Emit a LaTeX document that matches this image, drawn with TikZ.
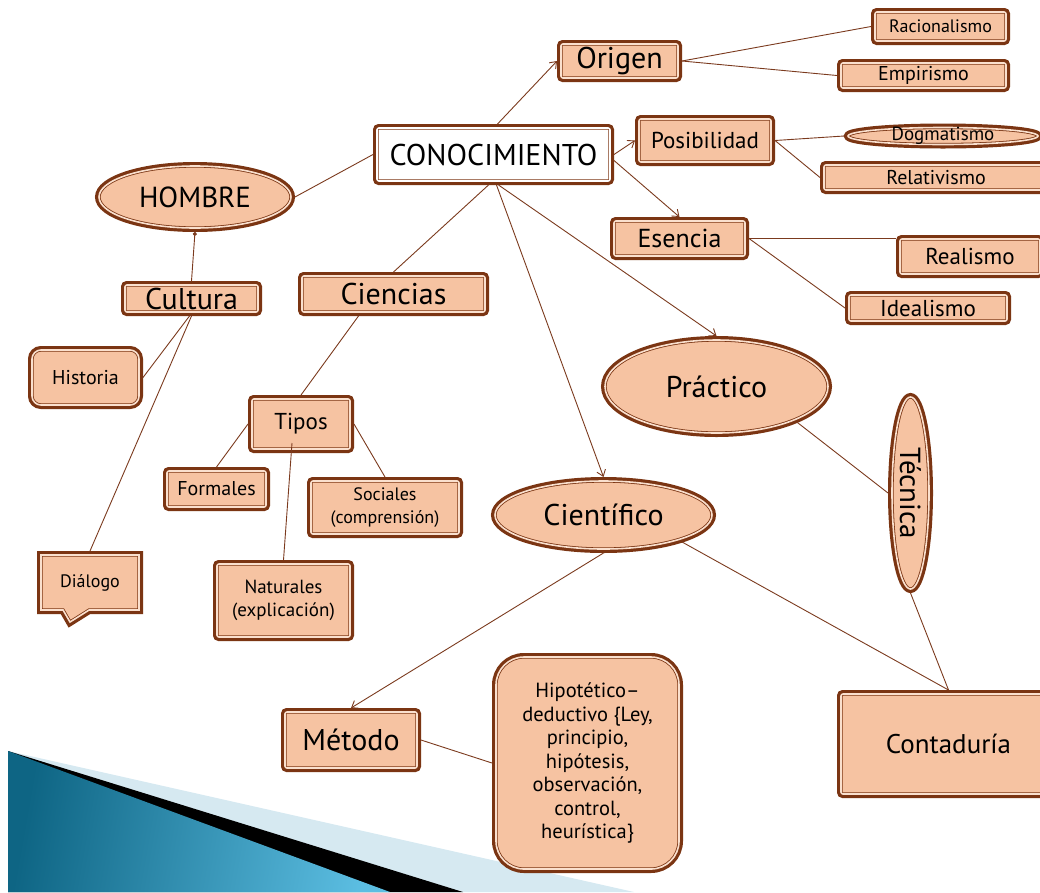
\documentclass[tikz,border=0pt]{standalone}
\usepackage{fontspec}
\setmainfont{PT Sans}
\usetikzlibrary{shapes.geometric,shapes.callouts,arrows.meta}
\definecolor{peach}{HTML}{F6C3A2}
\definecolor{bdark}{HTML}{7B3513}
\definecolor{bgap}{HTML}{FAE0CE}
\definecolor{lcol}{HTML}{7B3A1E}
\definecolor{lightband}{HTML}{D6E9F1}
\definecolor{bluedark}{HTML}{0E6584}
\definecolor{bluelight}{HTML}{5CBEE2}
\tikzset{
  bx/.style={rectangle, rounded corners=2pt, draw=bdark, line width=0.8pt, double=bgap,
    double distance=1.6pt, fill=peach, preaction={draw=bdark, line width=8pt},
    inner sep=0pt, outer sep=4pt, align=center, text=black},
  el/.style={bx, ellipse},
  con/.style={draw=lcol, line width=0.9pt},
  arr/.style={con, -{Straight Barb[length=6pt,width=9pt]}},
  f30/.style={font=\fontsize{30}{36}\selectfont},
  f29/.style={font=\fontsize{29}{35}\selectfont},
  f27/.style={font=\fontsize{27}{32}\selectfont},
  f26/.style={font=\fontsize{26}{31}\selectfont},
  f23/.style={font=\fontsize{23}{28}\selectfont},
  f20/.style={font=\fontsize{20}{24}\selectfont},
  f19/.style={font=\fontsize{19}{23.5}\selectfont},
  f18/.style={font=\fontsize{18}{23.5}\selectfont},
  fhip/.style={font=\fontsize{20.5}{23.5}\selectfont},
}
\begin{document}
\begin{tikzpicture}[x=1pt,y=-1pt]
\useasboundingbox (0,0) rectangle (1040,892);
% bottom-left decoration
\fill[lightband] (8,751) -- (634,892) -- (8,892) -- cycle;
\fill[black] (8,751) -- (463,892) -- (8,892) -- cycle;
\shade[left color=bluedark, right color=bluelight, shading angle=80] (8,751) -- (390,892) -- (8,892) -- cycle;

% nodes
\node[bx, f30, fill=white, double=white, minimum width=233, minimum height=53] (conoc) at (493.5,154.5) {CONOCIMIENTO};
\node[bx, f30, minimum width=117, minimum height=34] (origen) at (619.5,61) {Origen};
\node[bx, f18, minimum width=131, minimum height=29] (raci) at (940.5,26.5) {Racionalismo};
\node[bx, f20, minimum width=165, minimum height=25] (empi) at (923.5,75.5) {Empirismo};
\node[bx, f23, minimum width=132, minimum height=43] (posib) at (705,140.5) {Posibilidad};
\node[el, minimum width=190, minimum height=17, label={[f19, text=black]center:Dogmatismo}] (dogma) at (943,136) {};
\node[bx, f20, minimum width=224, minimum height=25] (relat) at (936,177.5) {Relativismo};
\node[bx, f26, minimum width=131, minimum height=35] (esencia) at (679.5,238.5) {Esencia};
\node[bx, f23, minimum width=140, minimum height=35] (realismo) at (970,256.5) {Realismo};
\node[bx, f23, minimum width=158, minimum height=26] (ideal) at (928,308) {Idealismo};
\node[el, f30, minimum width=223, minimum height=93] (practico) at (716.5,386.5) {Práctico};
\node[el, f29, rotate=-90, minimum width=192, minimum height=37] (tecnica) at (910.5,493) {Técnica};
\node[bx, f27, minimum width=215, minimum height=100] (contad) at (948.5,744) {Contaduría};
\node[el, f30, minimum width=217, minimum height=68] (cientif) at (603.5,515) {Científico};
\node[bx, fhip, rounded corners=28pt, minimum width=183, minimum height=212] (hipot) at (587.5,763)
  {Hipotético–\\deductivo \{Ley,\\principio,\\hipótesis,\\observación,\\control,\\heurística\}};
\node[bx, f30, minimum width=132, minimum height=56] (metodo) at (351,740) {Método};
\node[bx, f30, minimum width=183, minimum height=36] (ciencias) at (393.5,294) {Ciencias};
\node[bx, f23, minimum width=98, minimum height=50] (tipos) at (301,424) {Tipos};
\node[bx, f20, minimum width=99, minimum height=36] (formales) at (216.5,489) {Formales};
\node[bx, f18, minimum width=148, minimum height=53] (sociales) at (385,507.5) {Sociales\\(comprensión)};
\node[bx, f19, minimum width=133, minimum height=73] (naturales) at (283.5,600.5) {Naturales\\(explicación)};
\node[el, f29, minimum width=192, minimum height=62] (hombre) at (195,197) {HOMBRE};
\node[bx, f30, minimum width=133, minimum height=27] (cultura) at (191.5,298.5) {Cultura};
\node[bx, f20, rounded corners=9pt, minimum width=107, minimum height=55] (historia) at (85.5,377.5) {Historia};
\node[bx, f18, rectangle callout, rounded corners=0pt, callout absolute pointer={(70,622)}, callout pointer width=26pt,
  minimum width=98, minimum height=55] (dialogo) at (90,582.5) {Diálogo};

% connectors
\draw[arr] ([xshift=4]conoc.north) -- (origen.west);
\draw[arr] (conoc.east) -- (posib.west);
\draw[arr] ([yshift=-6]conoc.east) -- (esencia.north);
\draw[arr] ([xshift=5]conoc.south) -- (practico.north);
\draw[arr] ([xshift=3]conoc.south) -- (cientif.north);
\draw[con] ([xshift=-5]conoc.south) -- (ciencias.north);
\draw[con] (conoc.west) -- (hombre.east);
\draw[con] (origen.east) -- (raci.west);
\draw[con] (origen.east) -- (empi.west);
\draw[con] (posib.east) -- (dogma.west);
\draw[con] (posib.east) -- (relat.west);
\draw[con] (esencia.east) -- (esencia.east -| realismo.west);
\draw[con] (esencia.east) -- (ideal.west);
\draw[con] ([xshift=-35]ciencias.south) -- (tipos.north);
\draw[con] (tipos.west) -- (formales.north);
\draw[con] (tipos.east) -- (sociales.north);
\draw[con] ([xshift=-9,yshift=10]tipos.south) -- (naturales.north);
\draw[con, {Circle[length=4pt]}-] (hombre.south) -- (cultura.north);
\draw[con] ([xshift=-2]cultura.south) -- (historia.east);
\draw[con] (cultura.south) -- (dialogo.north);
\draw[con] (practico.-24) -- (tecnica.south);
\draw[arr] (cientif.south) -- (metodo.north);
\draw[con] (cientif.-19) -- (contad.north);
\draw[con] (tecnica.east) -- (contad.north);
\draw[con] (metodo.east) -- (hipot.west);
\end{tikzpicture}
\end{document}
